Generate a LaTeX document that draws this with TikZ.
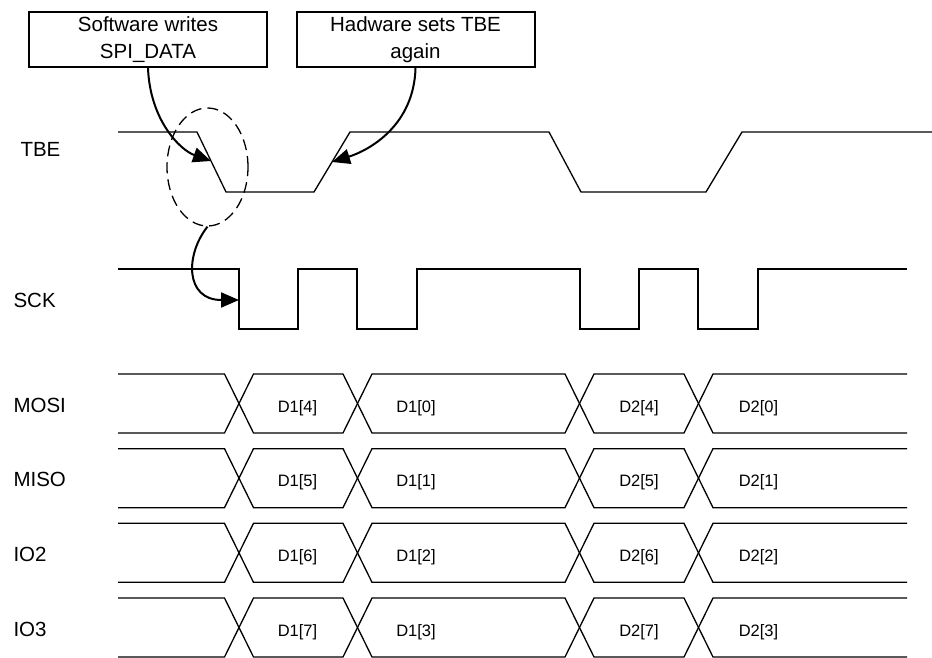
\documentclass[tikz,border=0pt]{standalone}
\usepackage{fontspec}
\setmainfont{Liberation Sans}
\usetikzlibrary{arrows.meta,shapes.geometric}

\tikzset{
  sig/.style={line width=1.3pt},
  callout/.style={draw, line width=2pt, minimum width=238pt, minimum height=55pt,
    align=center, inner sep=0pt, font=\fontsize{20.5}{27.5}\selectfont},
  signame/.style={anchor=base west, font=\fontsize{20.5}{24}\selectfont},
  bitname/.style={anchor=base, font=\fontsize{16.5}{20}\selectfont},
  pointer/.style={line width=2pt, -{Triangle[length=18pt,width=15pt]}},
}

\begin{document}
\begin{tikzpicture}[x=1pt, y=-1pt]
  \useasboundingbox (0,0) rectangle (932,658);
  % define point
  \coordinate (tbefall) at (211,161);
  \coordinate (tberise) at (332,162);
  \coordinate (sckfall) at (239,300);
  % notes
  \node[callout] (sw) at (148,39.5) {Software writes\\SPI\_DATA};
  \node[callout] (hw) at (415.5,39.5) {Hadware sets TBE\\again};
  % signal names
  \node[signame] (tbe) at (17,157) {TBE};
  \node[signame] (sck) at (10,307) {SCK};
  \foreach \n/\lbl [count=\i from 0] in {mosi/MOSI, miso/MISO, io2/IO2, io3/IO3}
    \node[signame] (\n) at (10,412+74.67*\i) {\lbl};
  % TBE and SCK
  \draw[sig] (118,132) -- (197,132) -- (226,192) -- (314,192) -- (350,132) -- (549,132)
    -- (581,192) -- (706,192) -- (742,132) -- (932,132);
  \draw[sig] (118,269) -- (239,269) -- (239,329) -- (298,329) -- (298,269) -- (357,269)
    -- (357,329) -- (417,329) -- (417,269) -- (580,269) -- (580,329) -- (639,329)
    -- (639,269) -- (698,269) -- (698,329) -- (758,329) -- (758,269) -- (907,269);
  % data lines
  \foreach \i in {0,...,3} {
    \pgfmathsetmacro{\ytop}{374+74.67*\i}
    \pgfmathsetmacro{\ybot}{\ytop+59}
    \pgfmathtruncatemacro{\hi}{4+\i}
    \draw[sig] (118,\ytop) -- (224.5,\ytop) -- (253.5,\ybot) -- (343,\ybot) -- (372,\ytop)
      -- (565,\ytop) -- (594,\ybot) -- (684,\ybot) -- (713,\ytop) -- (907,\ytop);
    \draw[sig] (118,\ybot) -- (224.5,\ybot) -- (253.5,\ytop) -- (343,\ytop) -- (372,\ybot)
      -- (565,\ybot) -- (594,\ytop) -- (684,\ytop) -- (713,\ybot) -- (907,\ybot);
    \node[bitname] (d1hi\i) at (297.5,\ytop+38) {D1[\hi]};
    \node[bitname] (d1lo\i) at (416,\ytop+38) {D1[\i]};
    \node[bitname] (d2hi\i) at (639,\ytop+38) {D2[\hi]};
    \node[bitname] (d2lo\i) at (758.5,\ytop+38) {D2[\i]};
  }
  % write marker
  \node[draw, ellipse, sig, dash pattern=on 11pt off 6pt, minimum width=81pt,
    minimum height=118pt, inner sep=0pt] (swcirc) at (207.5,167) {};
  \draw[pointer] (sw.south) .. controls (150,120) and (180,150) .. (tbefall);
  \draw[pointer] (hw.south) .. controls (414,125) and (370,150) .. (tberise);
  \draw[pointer] (swcirc.south) .. controls (185,255) and (185,300) .. (sckfall);
\end{tikzpicture}
\end{document}
